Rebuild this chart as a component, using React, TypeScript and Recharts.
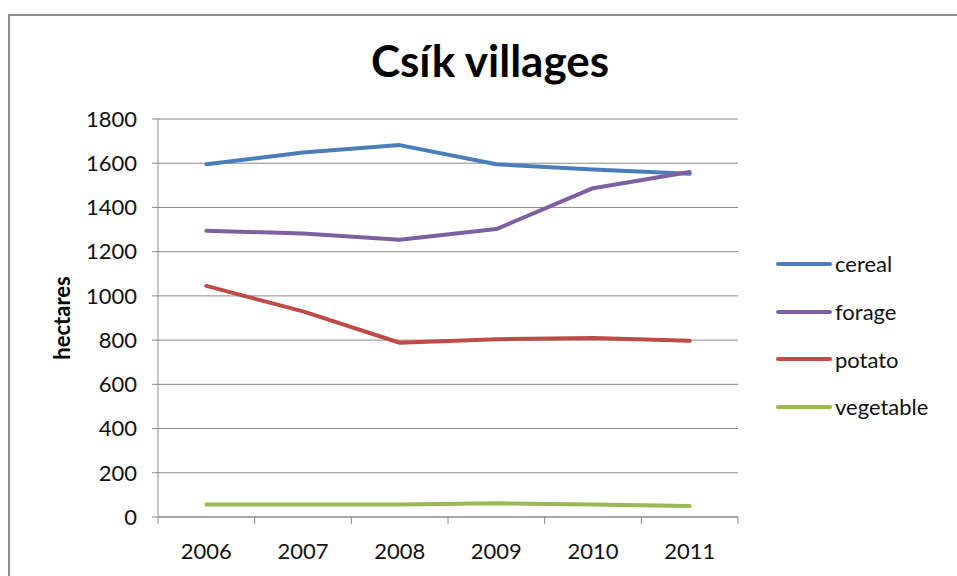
import React from "react";
import {
  LineChart,
  Line,
  XAxis,
  YAxis,
  CartesianGrid,
  Legend,
} from "recharts";

const years = ["2006", "2007", "2008", "2009", "2010", "2011"];
const cereal = [1595, 1648, 1682, 1595, 1572, 1552];
const forage = [1295, 1282, 1254, 1302, 1487, 1560];
const potato = [1045, 930, 788, 804, 809, 797];
const vegetable = [56, 56, 56, 62, 57, 50];
const yTicks = [0, 200, 400, 600, 800, 1000, 1200, 1400, 1600, 1800];

const font = "Lato, 'Open Sans', sans-serif";
const axisGray = "#8a8a8a";

const series = [
  { key: "cereal", color: "#4A7EBB" },
  { key: "forage", color: "#7E60A2" },
  { key: "potato", color: "#BE4B48" },
  { key: "vegetable", color: "#98B954" },
];

// x positions: category centres at i + 0.5, boundaries at integers (Excel style ticks)
const rows = years.map((year, i) => ({
  pos: i + 0.5,
  year,
  cereal: cereal[i],
  forage: forage[i],
  potato: potato[i],
  vegetable: vegetable[i],
}));
const xTicks = Array.from({ length: years.length * 2 + 1 }, (_, i) => i / 2);

const XTick = (props: any) => {
  const { x, y, payload } = props;
  const v = payload.value;
  if (Number.isInteger(v)) {
    return <line x1={x} x2={x} y1={y} y2={y + 7} stroke={axisGray} strokeWidth={1} />;
  }
  return (
    <text x={x} y={y + 42} textAnchor="middle" fill="#111" fontSize={22} fontFamily={font}>
      {years[Math.floor(v)]}
    </text>
  );
};

const YLabel = (props: any) => {
  const { viewBox } = props;
  const cx = viewBox.x + 61;
  const cy = viewBox.y + viewBox.height / 2;
  return (
    <text
      x={cx}
      y={cy}
      transform={`rotate(-90, ${cx}, ${cy})`}
      textAnchor="middle"
      dominantBaseline="central"
      fontSize={22}
      fontWeight={700}
      fontFamily={font}
      fill="#000"
    >
      hectares
    </text>
  );
};

const LegendContent = (props: any) => {
  const { payload } = props;
  return (
    <div>
      {(payload || []).map((entry: any) => (
        <div key={entry.value} style={{ display: "flex", alignItems: "center", height: 47.7 }}>
          <svg width={56} height={8}>
            <line x1={2} x2={54} y1={4} y2={4} stroke={entry.color} strokeWidth={4} strokeLinecap="round" />
          </svg>
          <span style={{ marginLeft: 3, fontSize: 22, fontFamily: font, color: "#111" }}>{entry.value}</span>
        </div>
      ))}
    </div>
  );
};

export default function App() {
  return (
    <div style={{ position: "fixed", left: 0, top: 0, width: 957, height: 576, overflow: "hidden", background: "#fff" }}>
      <div
        style={{
          position: "absolute",
          left: 8,
          top: 14,
          width: 1000,
          height: 700,
          border: "2px solid #8c8c8c",
        }}
      />
      <div
        style={{
          position: "absolute",
          left: 0,
          width: 980,
          top: 34,
          textAlign: "center",
          fontFamily: font,
          fontWeight: 700,
          fontSize: 44,
          color: "#000",
          lineHeight: "52px",
        }}
      >
        Csík villages
      </div>
      <div style={{ position: "absolute", left: 0, top: 0 }}>
        <LineChart
          width={957}
          height={576}
          data={rows}
          margin={{ top: 119, right: 219, bottom: 0, left: 0 }}
        >
          <CartesianGrid horizontal vertical={false} stroke={axisGray} strokeWidth={1} />
          <XAxis
            type="number"
            dataKey="pos"
            domain={[0, years.length]}
            ticks={xTicks}
            interval={0}
            tickLine={false}
            tickSize={0}
            tickMargin={0}
            tick={<XTick />}
            axisLine={{ stroke: axisGray }}
            height={59}
          />
          <YAxis
            width={158}
            domain={[0, 1800]}
            ticks={yTicks}
            interval={0}
            tickSize={6}
            tickMargin={15}
            tickLine={{ stroke: axisGray }}
            axisLine={{ stroke: axisGray }}
            tick={{ fill: "#111", fontSize: 22, fontFamily: font }}
            label={<YLabel />}
          />
          {series.map((s) => (
            <Line
              key={s.key}
              type="linear"
              dataKey={s.key}
              name={s.key}
              stroke={s.color}
              strokeWidth={4}
              strokeLinecap="round"
              strokeLinejoin="round"
              dot={false}
              activeDot={false}
              isAnimationActive={false}
            />
          ))}
          <Legend
            layout="vertical"
            align="center"
            verticalAlign="middle"
            content={<LegendContent />}
            wrapperStyle={{ left: 776, top: 240, width: 180, height: "auto" }}
          />
        </LineChart>
      </div>
    </div>
  );
}
